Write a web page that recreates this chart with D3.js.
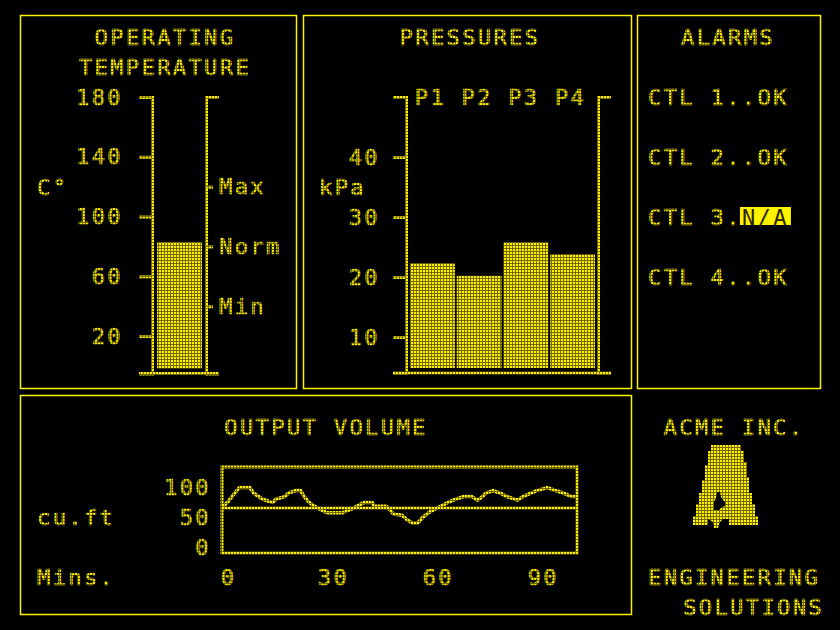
<html>
  <script src="https://d3js.org/d3.v7.min.js"></script>
  <body style="margin:0;background:#000">
    <script>
      // temperature panel
      let tempTicks = [20, 60, 100, 140, 180];
      let tempLimitNames = ["Min", "Norm", "Max"];
      let tempLimitValues = [40, 80, 120];
      let temperature = 83;
      // pressures panel
      let pressureNames = ["P1", "P2", "P3", "P4"];
      let pressureValues = [22.3, 20.2, 25.8, 23.8];
      let pressureTicks = [10, 20, 30, 40];
      // alarms
      let alarmNames = ["CTL 1", "CTL 2", "CTL 3", "CTL 4"];
      let alarmStatus = ["OK", "OK", "N/A", "OK"];
      // output volume
      let minutes = [0, 1.5, 3, 5, 8, 9, 11.5, 14.5, 15.5, 18, 19, 21, 22.5, 23.5, 25, 26.5, 28, 30, 34.5, 35.5, 37, 38.5, 40.5, 43, 43.5, 47, 48, 49, 51.5, 53, 54.5, 56, 57.5, 59.5, 62.5, 64.5, 67, 69, 71.5, 73, 74.5, 75.5, 77.5, 79.5, 81.5, 84.5, 86, 88.5, 90, 93, 95.5, 97.5, 100, 101.5];
      let volume = [67, 74, 85, 99, 99, 90, 80, 74, 80, 84, 90, 94, 94, 84, 74, 68, 63, 57, 57, 60, 63, 68, 74, 74, 68, 68, 62, 55, 53, 45, 40, 40, 50, 59, 68, 74, 80, 84, 84, 78, 84, 90, 94, 90, 84, 78, 84, 90, 94, 99, 94, 90, 84, 84];
      let volumeTarget = 65;
      let volumeTicks = [0, 50, 100];
      let minuteTicks = [0, 30, 60, 90];

      let width = 840, height = 630;
      let yellow = "#fff200", olive = "#756a00";
      let font = "'DejaVu Sans Mono', monospace";

      let svg = d3.select("body").append("svg")
                  .attr("width", width)
                  .attr("height", height)
                  .style("background", "#000")
                  .attr("font-family", font)
                  .attr("font-size", 22)
                  .attr("letter-spacing", 2.4);

      // dot-matrix fill
      let pat = svg.append("defs").append("pattern")
                   .attr("id", "dot")
                   .attr("width", 3).attr("height", 3)
                   .attr("patternUnits", "userSpaceOnUse");
      pat.append("rect").attr("width", 3).attr("height", 3).attr("fill", olive);
      pat.append("rect").attr("width", 2).attr("height", 2).attr("fill", yellow);
      let dot = "url(#dot)";

      // panel frames
      [[20, 15, 276, 373], [303, 15, 328, 373], [637, 15, 183, 373], [20, 395, 611, 219]]
        .forEach(p => svg.append("rect")
           .attr("x", p[0] + 0.5).attr("y", p[1] + 0.5)
           .attr("width", p[2]).attr("height", p[3])
           .attr("fill", "none").attr("stroke", yellow).attr("stroke-width", 1.5));

      function label(txt, x, y, anchor) {
        return svg.append("text")
                  .attr("x", x).attr("y", y)
                  .attr("text-anchor", anchor || "start")
                  .attr("fill", dot).attr("stroke", dot).attr("stroke-width", 0.7)
                  .text(txt);
      }
      function styleAxis(g) {
        g.select(".domain").attr("stroke", dot).attr("stroke-width", 3);
        g.selectAll(".tick line").attr("stroke", dot).attr("stroke-width", 3);
        g.selectAll(".tick text").attr("fill", dot).attr("stroke", dot).attr("stroke-width", 0.7)
         .attr("font-family", font).attr("font-size", 22);
      }

      // ---------- operating temperature ----------
      label("OPERATING", 165, 45, "middle");
      label("TEMPERATURE", 165, 75, "middle");
      label("C°", 37, 195);

      let tY = d3.scaleLinear().domain([-5, 180]).range([373.5, 97]);
      let tLeft = 152, tRight = 206;
      let gl = svg.append("g").attr("transform", `translate(${tLeft},0)`)
                  .call(d3.axisLeft(tY).tickValues(tempTicks).tickSize(13).tickSizeOuter(13).tickPadding(16));
      styleAxis(gl);
      let gr = svg.append("g").attr("transform", `translate(${tRight},0)`)
                  .call(d3.axisRight(tY).tickValues(tempLimitValues)
                          .tickFormat((d, i) => tempLimitNames[i])
                          .tickSize(7).tickSizeOuter(13).tickPadding(6));
      styleAxis(gr);
      svg.append("line")
         .attr("x1", tLeft - 13).attr("x2", tRight + 13)
         .attr("y1", tY(-5)).attr("y2", tY(-5))
         .attr("stroke", dot).attr("stroke-width", 3);
      svg.append("rect")
         .attr("x", tLeft + 5).attr("width", tRight - tLeft - 9)
         .attr("y", tY(temperature))
         .attr("height", tY(-5) - 5 - tY(temperature))
         .attr("fill", dot);

      // ---------- pressures ----------
      label("PRESSURES", 470, 45, "middle");
      label("kPa", 319, 195);
      let pY = d3.scaleLinear().domain([4, 50]).range([373, 97]);
      let pX = d3.scaleBand().domain(pressureNames).range([410, 595]).paddingInner(0.04);
      let pLeft = 406, pRight = 598;
      let pl = svg.append("g").attr("transform", `translate(${pLeft},0)`)
                  .call(d3.axisLeft(pY).tickValues(pressureTicks).tickSize(13).tickSizeOuter(13).tickPadding(13));
      styleAxis(pl);
      let pr = svg.append("g").attr("transform", `translate(${pRight},0)`)
                  .call(d3.axisRight(pY).tickValues([]).tickSizeOuter(13));
      styleAxis(pr);
      svg.append("line")
         .attr("x1", pLeft - 13).attr("x2", pRight + 13)
         .attr("y1", pY(4)).attr("y2", pY(4))
         .attr("stroke", dot).attr("stroke-width", 3);
      svg.selectAll(".pbar").data(pressureValues).join("rect")
         .attr("class", "pbar")
         .attr("x", (d, i) => pX(pressureNames[i]))
         .attr("width", pX.bandwidth())
         .attr("y", d => pY(d))
         .attr("height", d => pY(4) - 5 - pY(d))
         .attr("fill", dot);
      let pt = svg.append("g").attr("transform", "translate(-2,97)")
                  .call(d3.axisTop(pX).tickSize(0).tickPadding(-8));
      pt.select(".domain").remove();
      styleAxis(pt);
      pt.selectAll("text").attr("dy", "0");

      // ---------- alarms ----------
      label("ALARMS", 728, 45, "middle");
      let probe = label("M", 0, -50);
      let adv = probe.node().getComputedTextLength();
      probe.remove();
      alarmNames.forEach((n, i) => {
        let st = alarmStatus[i];
        let pre = n + ".".repeat(9 - n.length - st.length);
        let by = 105 + i * 60;
        let x0 = 648;
        label(pre, x0, by);
        let sx = x0 + pre.length * adv;
        if (st === "N/A") {
          svg.append("rect").attr("x", sx - 2).attr("y", by - 18)
             .attr("width", st.length * adv + 4).attr("height", 18)
             .attr("fill", yellow);
          svg.append("text").attr("x", sx).attr("y", by)
             .attr("fill", "#2a2600").text(st);
        } else {
          label(st, sx, by);
        }
      });

      // ---------- output volume ----------
      label("OUTPUT VOLUME", 326, 435, "middle");
      label("cu.ft", 37, 525);
      label("Mins.", 37, 585);
      let vX = d3.scaleLinear().domain([0, 101.5]).range([222, 577]);
      let vY = d3.scaleLinear().domain([-10, 133.3]).range([553, 467]);
      svg.append("rect")
         .attr("x", vX(0)).attr("y", vY(133.3))
         .attr("width", vX(101.5) - vX(0)).attr("height", vY(-10) - vY(133.3))
         .attr("fill", "none").attr("stroke", dot).attr("stroke-width", 3);
      svg.append("line")
         .attr("x1", vX(0)).attr("x2", vX(101.5))
         .attr("y1", vY(volumeTarget)).attr("y2", vY(volumeTarget))
         .attr("stroke", dot).attr("stroke-width", 3);
      svg.append("path")
         .datum(minutes.map((m, i) => [m, volume[i]]))
         .attr("d", d3.line().x(d => vX(d[0])).y(d => vY(d[1])))
         .attr("fill", "none").attr("stroke", dot).attr("stroke-width", 3.5)
         .attr("stroke-linejoin", "round");
      let vy = svg.append("g").attr("transform", "translate(211,0)")
                  .call(d3.axisLeft(vY).tickValues(volumeTicks).tickSize(0).tickPadding(0));
      vy.select(".domain").remove();
      styleAxis(vy);
      let vx = svg.append("g").attr("transform", "translate(6,569)")
                  .call(d3.axisBottom(vX).tickValues(minuteTicks).tickSize(0).tickPadding(0));
      vx.select(".domain").remove();
      styleAxis(vx);

      // ---------- company block ----------
      label("ACME INC.", 734, 435, "middle");
      label("ENGINEERING", 648, 585);
      label("SOLUTIONS", 824, 615, "end");
      // logo outline, in pixels relative to its top-left corner
      let logo = [[18,0],[48,0],[48,6],[51,6],[51,17],[54,17],[54,32],[56,32],[56,48],[59,48],[59,59],[62,59],[62,71],[65,71],[65,80],
                  [36,80],[36,74],[30,74],[27,77],[25,83],[21,83],[20,77],[15,74],[15,80],[0,80],[0,71],[3,71],[3,59],[6,59],[6,48],
                  [9,48],[9,35],[12,35],[12,20],[15,20],[15,6],[18,6]];
      let hole = [[24,47],[27,47],[28,52],[30,55],[32,57],[32,61],[29,62],[26,65],[21,65],[21,57],[23,53]];
      let lg = svg.append("g").attr("transform", "translate(693,445)");
      lg.append("path").attr("d", d3.line()(logo) + "Z" + d3.line()(hole) + "Z")
        .attr("fill-rule", "evenodd").attr("fill", dot);
    </script>
  </body>
</html>
